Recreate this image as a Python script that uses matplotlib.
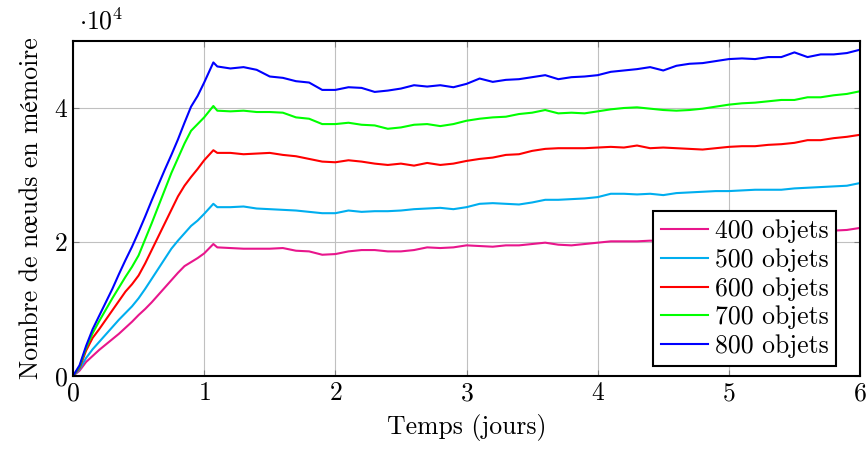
import matplotlib
matplotlib.use("Agg")
import matplotlib.pyplot as plt

plt.rcParams['font.family'] = ['cmr10', 'STIXGeneral', 'DejaVu Serif']
plt.rcParams['mathtext.fontset'] = 'cm'
plt.rcParams['axes.formatter.use_mathtext'] = True

# Temps (jours) : montée puis plateau
jours_montee = [0, 0.05, 0.1, 0.15, 0.2, 0.25, 0.3, 0.35, 0.4, 0.45, 0.5,
                0.55, 0.6, 0.65, 0.7, 0.75, 0.8, 0.85, 0.9, 0.95, 1.0, 1.07]
jours_plateau = [1.1, 1.2, 1.3, 1.4, 1.5, 1.6, 1.7, 1.8, 1.9, 2.0,
                 2.1, 2.2, 2.3, 2.4, 2.5, 2.6, 2.7, 2.8, 2.9, 3.0,
                 3.1, 3.2, 3.3, 3.4, 3.5, 3.6, 3.7, 3.8, 3.9, 4.0,
                 4.1, 4.2, 4.3, 4.4, 4.5, 4.6, 4.7, 4.8, 4.9, 5.0,
                 5.1, 5.2, 5.3, 5.4, 5.5, 5.6, 5.7, 5.8, 5.9, 6.0]
jours = jours_montee + jours_plateau

# noeuds en mémoire (x 10^4)
n400 = [0, 0.08, 0.21, 0.30, 0.39, 0.47, 0.55, 0.63, 0.72, 0.81, 0.91,
        1.00, 1.10, 1.21, 1.32, 1.43, 1.54, 1.64, 1.70, 1.76, 1.83, 1.97,
        1.92, 1.91, 1.90, 1.90, 1.90, 1.91, 1.87, 1.86, 1.81, 1.82,
        1.86, 1.88, 1.88, 1.86, 1.86, 1.88, 1.92, 1.91, 1.92, 1.95,
        1.94, 1.93, 1.95, 1.95, 1.97, 1.99, 1.96, 1.95, 1.97, 1.99,
        2.01, 2.01, 2.01, 2.02, 2.02, 2.03, 2.03, 2.04, 2.05, 2.06,
        2.07, 2.08, 2.09, 2.10, 2.12, 2.14, 2.15, 2.17, 2.18, 2.21]
n500 = [0, 0.10, 0.27, 0.40, 0.51, 0.62, 0.73, 0.84, 0.94, 1.04, 1.16,
        1.30, 1.45, 1.60, 1.75, 1.90, 2.02, 2.13, 2.24, 2.32, 2.42, 2.57,
        2.52, 2.52, 2.53, 2.50, 2.49, 2.48, 2.47, 2.45, 2.43, 2.43,
        2.47, 2.45, 2.46, 2.46, 2.47, 2.49, 2.50, 2.51, 2.49, 2.52,
        2.57, 2.58, 2.57, 2.56, 2.59, 2.63, 2.63, 2.64, 2.65, 2.67,
        2.72, 2.72, 2.71, 2.72, 2.70, 2.73, 2.74, 2.75, 2.76, 2.76,
        2.77, 2.78, 2.78, 2.78, 2.80, 2.81, 2.82, 2.83, 2.84, 2.88]
n600 = [0, 0.12, 0.38, 0.57, 0.70, 0.84, 0.98, 1.12, 1.26, 1.37, 1.50,
        1.68, 1.88, 2.08, 2.28, 2.48, 2.68, 2.84, 2.97, 3.09, 3.22, 3.37,
        3.33, 3.33, 3.31, 3.32, 3.33, 3.30, 3.28, 3.24, 3.20, 3.19,
        3.22, 3.20, 3.17, 3.15, 3.17, 3.14, 3.18, 3.15, 3.17, 3.21,
        3.24, 3.26, 3.30, 3.31, 3.36, 3.39, 3.40, 3.40, 3.40, 3.41,
        3.42, 3.41, 3.44, 3.40, 3.41, 3.40, 3.39, 3.38, 3.40, 3.42,
        3.43, 3.43, 3.45, 3.46, 3.48, 3.52, 3.52, 3.55, 3.57, 3.60]
n700 = [0, 0.14, 0.42, 0.64, 0.82, 0.99, 1.16, 1.32, 1.48, 1.63, 1.80,
        2.04, 2.28, 2.53, 2.78, 3.03, 3.25, 3.47, 3.66, 3.76, 3.86, 4.03,
        3.96, 3.95, 3.96, 3.94, 3.94, 3.93, 3.86, 3.84, 3.76, 3.76,
        3.78, 3.75, 3.74, 3.69, 3.71, 3.75, 3.76, 3.73, 3.76, 3.81,
        3.84, 3.86, 3.87, 3.91, 3.93, 3.97, 3.92, 3.93, 3.92, 3.95,
        3.98, 4.00, 4.01, 3.99, 3.97, 3.96, 3.97, 3.99, 4.02, 4.05,
        4.07, 4.08, 4.10, 4.12, 4.12, 4.16, 4.16, 4.19, 4.21, 4.25]
n800 = [0, 0.16, 0.45, 0.70, 0.90, 1.10, 1.30, 1.52, 1.73, 1.93, 2.15,
        2.38, 2.62, 2.85, 3.08, 3.30, 3.53, 3.78, 4.02, 4.18, 4.38, 4.68,
        4.62, 4.59, 4.61, 4.57, 4.47, 4.45, 4.40, 4.38, 4.27, 4.27,
        4.31, 4.30, 4.24, 4.26, 4.29, 4.34, 4.32, 4.34, 4.31, 4.36,
        4.44, 4.39, 4.42, 4.43, 4.46, 4.49, 4.43, 4.46, 4.47, 4.49,
        4.54, 4.56, 4.58, 4.61, 4.56, 4.63, 4.66, 4.67, 4.70, 4.73,
        4.74, 4.73, 4.76, 4.76, 4.83, 4.76, 4.80, 4.80, 4.82, 4.87]

series = [n400, n500, n600, n700, n800]
labels = ["400 objets", "500 objets", "600 objets", "700 objets", "800 objets"]
couleurs = ["#E8168C", "#00AEEF", "#FF0000", "#00FF00", "#0000FF"]

fs = 18.5

fig = plt.figure(figsize=(8.68, 4.5), dpi=100)
ax = fig.add_axes([0.0841, 0.1644, 0.9067, 0.7445])

for vals, lab, c in zip(series, labels, couleurs):
    ax.plot(jours, [v * 1e4 for v in vals], color=c, lw=1.5, label=lab)

ax.set_xlim(0, 6)
ax.set_ylim(0, 5e4)
ax.set_xticks(range(0, 7))
ax.set_yticks([0, 2e4, 4e4])
ax.set_yticklabels(["0", "2", "4"])
ax.grid(True, color="#C0C0C0", lw=0.8)
ax.set_axisbelow(True)
ax.tick_params(direction="in", top=True, right=True, labelsize=fs, length=4,
               color="#808080", pad=4)
for s in ax.spines.values():
    s.set_linewidth(1.5)

ax.text(0.008, 1.02, r"$\cdot 10^{4}$", transform=ax.transAxes, fontsize=fs,
        ha="left", va="bottom")
ax.set_xlabel("Temps (jours)", fontsize=fs, labelpad=6)
ax.set_ylabel("Nombre de nœuds en mémoire", fontsize=fs, labelpad=8)

leg = ax.legend(loc="lower right", bbox_to_anchor=(0.9695, 0.03), borderaxespad=0,
                fontsize=fs, fancybox=False, framealpha=1, edgecolor="black",
                handlelength=1.85, borderpad=0.3, labelspacing=0.2,
                handletextpad=0.25)
leg.get_frame().set_linewidth(1.5)

fig.savefig("out.png", dpi=100)
